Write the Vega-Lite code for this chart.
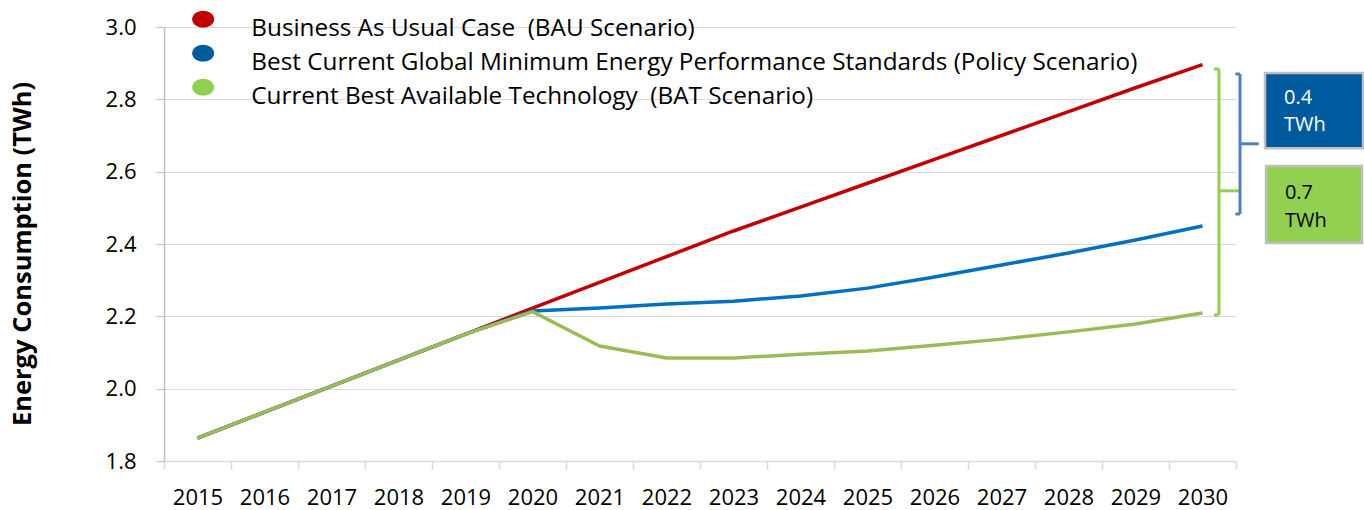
{
  "$schema": "https://vega.github.io/schema/vega-lite/v6.json",
  "width": 1072,
  "height": 434,
  "autosize": {"type": "none"},
  "padding": {"left": 164, "top": 27, "right": 128, "bottom": 49},
  "config": {"view": {"stroke": null}, "font": "Open Sans"},
  "datasets": {
    "series": [
      {"series": "BAU", "year": 2015, "value": 1.863},
      {"series": "BAU", "year": 2016, "value": 1.935},
      {"series": "BAU", "year": 2017, "value": 2.007},
      {"series": "BAU", "year": 2018, "value": 2.079},
      {"series": "BAU", "year": 2019, "value": 2.151},
      {"series": "BAU", "year": 2020, "value": 2.223},
      {"series": "BAU", "year": 2021, "value": 2.294},
      {"series": "BAU", "year": 2022, "value": 2.365},
      {"series": "BAU", "year": 2023, "value": 2.436},
      {"series": "BAU", "year": 2024, "value": 2.502},
      {"series": "BAU", "year": 2025, "value": 2.568},
      {"series": "BAU", "year": 2026, "value": 2.634},
      {"series": "BAU", "year": 2027, "value": 2.700},
      {"series": "BAU", "year": 2028, "value": 2.766},
      {"series": "BAU", "year": 2029, "value": 2.832},
      {"series": "BAU", "year": 2030, "value": 2.896},
      {"series": "Policy", "year": 2015, "value": 1.863},
      {"series": "Policy", "year": 2016, "value": 1.935},
      {"series": "Policy", "year": 2017, "value": 2.007},
      {"series": "Policy", "year": 2018, "value": 2.079},
      {"series": "Policy", "year": 2019, "value": 2.151},
      {"series": "Policy", "year": 2020, "value": 2.215},
      {"series": "Policy", "year": 2021, "value": 2.223},
      {"series": "Policy", "year": 2022, "value": 2.234},
      {"series": "Policy", "year": 2023, "value": 2.242},
      {"series": "Policy", "year": 2024, "value": 2.256},
      {"series": "Policy", "year": 2025, "value": 2.278},
      {"series": "Policy", "year": 2026, "value": 2.309},
      {"series": "Policy", "year": 2027, "value": 2.342},
      {"series": "Policy", "year": 2028, "value": 2.375},
      {"series": "Policy", "year": 2029, "value": 2.411},
      {"series": "Policy", "year": 2030, "value": 2.450},
      {"series": "BAT", "year": 2015, "value": 1.863},
      {"series": "BAT", "year": 2016, "value": 1.935},
      {"series": "BAT", "year": 2017, "value": 2.007},
      {"series": "BAT", "year": 2018, "value": 2.079},
      {"series": "BAT", "year": 2019, "value": 2.151},
      {"series": "BAT", "year": 2020, "value": 2.213},
      {"series": "BAT", "year": 2021, "value": 2.118},
      {"series": "BAT", "year": 2022, "value": 2.085},
      {"series": "BAT", "year": 2023, "value": 2.085},
      {"series": "BAT", "year": 2024, "value": 2.095},
      {"series": "BAT", "year": 2025, "value": 2.104},
      {"series": "BAT", "year": 2026, "value": 2.120},
      {"series": "BAT", "year": 2027, "value": 2.137},
      {"series": "BAT", "year": 2028, "value": 2.157},
      {"series": "BAT", "year": 2029, "value": 2.179},
      {"series": "BAT", "year": 2030, "value": 2.209}
    ],
    "legend": [
      {"scenario": "Business As Usual Case \u00a0(BAU Scenario)", "year": 2015, "value": 1.863},
      {"scenario": "Best Current Global Minimum Energy Performance Standards (Policy Scenario)", "year": 2015, "value": 1.863},
      {"scenario": "Current Best Available Technology \u00a0(BAT Scenario)", "year": 2015, "value": 1.863}
    ],
    "brackets": [
      {"bracket": "BAT", "x": 2030.246, "x2": 2030.246, "y": 2.884, "y2": 2.204},
      {"bracket": "BAT", "x": 2030.17, "x2": 2030.246, "y": 2.884, "y2": 2.884},
      {"bracket": "BAT", "x": 2030.17, "x2": 2030.246, "y": 2.204, "y2": 2.204},
      {"bracket": "BAT", "x": 2030.246, "x2": 2030.55, "y": 2.547, "y2": 2.547},
      {"bracket": "Policy", "x": 2030.56, "x2": 2030.56, "y": 2.870, "y2": 2.483},
      {"bracket": "Policy", "x": 2030.49, "x2": 2030.56, "y": 2.870, "y2": 2.870},
      {"bracket": "Policy", "x": 2030.49, "x2": 2030.56, "y": 2.483, "y2": 2.483},
      {"bracket": "Policy", "x": 2030.56, "x2": 2030.84, "y": 2.677, "y2": 2.677}
    ],
    "boxes": [
      {"box": "Policy", "x": 2030.933, "x2": 2032.396, "y": 2.873, "y2": 2.665},
      {"box": "BAT", "x": 2030.948, "x2": 2032.381, "y": 2.616, "y2": 2.403}
    ],
    "boxlabels": [
      {"box": "Policy", "x": 2031.216, "y": 2.787, "text": "0.4"},
      {"box": "Policy", "x": 2031.216, "y": 2.712, "text": "TWh"},
      {"box": "BAT", "x": 2031.23, "y": 2.524, "text": "0.7"},
      {"box": "BAT", "x": 2031.23, "y": 2.447, "text": "TWh"}
    ]
  },
  "layer": [
    {
      "data": {"name": "series"},
      "mark": {"type": "line", "strokeWidth": 3.5, "strokeCap": "butt", "strokeJoin": "round"},
      "encoding": {
        "x": {
          "field": "year", "type": "quantitative",
          "scale": {"domain": [2014.5, 2030.5], "nice": false, "zero": false},
          "axis": {
            "title": null,
            "values": [2014.5, 2015.5, 2016.5, 2017.5, 2018.5, 2019.5, 2020.5, 2021.5, 2022.5, 2023.5, 2024.5, 2025.5, 2026.5, 2027.5, 2028.5, 2029.5, 2030.5],
            "labelExpr": "datum.value > 2030 ? '' : format(datum.value + 0.5, 'd')",
            "labelOffset": 33.5,
            "labelFlush": false,
            "labelOverlap": false,
            "labelBound": false,
            "grid": false,
            "domainColor": "#D9D9D9",
            "domainWidth": 1.5,
            "tickColor": "#D9D9D9",
            "tickWidth": 1.5,
            "tickSize": 8,
            "labelFontSize": 22,
            "labelFont": "Open Sans",
            "labelColor": "#000000",
            "labelPadding": 18
          }
        },
        "y": {
          "field": "value", "type": "quantitative",
          "scale": {"domain": [1.8, 3.0], "nice": false, "zero": false},
          "axis": {
            "title": "Energy Consumption (TWh)",
            "values": [1.8, 2.0, 2.2, 2.4, 2.6, 2.8, 3.0],
            "format": ".1f",
            "grid": true,
            "gridColor": "#D9D9D9",
            "gridWidth": 1,
            "domainColor": "#BFBFBF",
            "domainWidth": 1.5,
            "tickColor": "#BFBFBF",
            "tickSize": 8,
            "labelFontSize": 22,
            "labelFont": "Open Sans",
            "labelColor": "#000000",
            "labelPadding": 20,
            "titleFont": "Open Sans",
            "titleFontSize": 25.5,
            "titleFontWeight": "bold",
            "titleColor": "#000000",
            "titlePadding": 70,
            "titleY": 226.5
          }
        },
        "stroke": {
          "field": "series", "type": "nominal",
          "scale": {
            "domain": ["BAU", "Policy", "BAT"],
            "range": ["#C00000", "#0070C0", "#9BBB59"]
          },
          "legend": null
        }
      }
    },
    {
      "data": {"name": "legend"},
      "mark": {"type": "point", "filled": true, "opacity": 0},
      "encoding": {
        "x": {"field": "year", "type": "quantitative"},
        "y": {"field": "value", "type": "quantitative"},
        "fill": {
          "field": "scenario", "type": "nominal",
          "scale": {
            "domain": ["Business As Usual Case \u00a0(BAU Scenario)", "Best Current Global Minimum Energy Performance Standards (Policy Scenario)", "Current Best Available Technology \u00a0(BAT Scenario)"],
            "range": ["#C00000", "#005A9E", "#92D050"]
          },
          "legend": {
            "title": null,
            "orient": "none",
            "legendX": 27,
            "legendY": -20,
            "direction": "vertical",
            "symbolType": "M -1 0 A 1 0.77 0 1 0 1 0 A 1 0.77 0 1 0 -1 0 Z",
            "symbolSize": 484,
            "symbolOpacity": 1,
            "symbolStrokeWidth": 0,
            "labelFontSize": 24.3,
            "labelFont": "Open Sans",
            "labelColor": "#000000",
            "labelOffset": 36,
            "labelLimit": 1200,
            "rowPadding": -2,
            "encode": {"labels": {"update": {"dy": {"value": 9.5}}}}
          }
        }
      }
    },
    {
      "data": {"name": "brackets"},
      "transform": [{"filter": "datum.bracket == 'BAT'"}],
      "mark": {"type": "rule", "color": "#92D050", "strokeWidth": 3},
      "encoding": {
        "x": {"field": "x", "type": "quantitative"},
        "x2": {"field": "x2"},
        "y": {"field": "y", "type": "quantitative"},
        "y2": {"field": "y2"}
      }
    },
    {
      "data": {"name": "brackets"},
      "transform": [{"filter": "datum.bracket == 'Policy'"}],
      "mark": {"type": "rule", "color": "#4F81BD", "strokeWidth": 3},
      "encoding": {
        "x": {"field": "x", "type": "quantitative"},
        "x2": {"field": "x2"},
        "y": {"field": "y", "type": "quantitative"},
        "y2": {"field": "y2"}
      }
    },
    {
      "data": {"name": "boxes"},
      "transform": [{"filter": "datum.box == 'Policy'"}],
      "mark": {"type": "rect", "fill": "#005A9E", "stroke": "#BFBFBF", "strokeWidth": 2.5},
      "encoding": {
        "x": {"field": "x", "type": "quantitative"},
        "x2": {"field": "x2"},
        "y": {"field": "y", "type": "quantitative"},
        "y2": {"field": "y2"}
      }
    },
    {
      "data": {"name": "boxes"},
      "transform": [{"filter": "datum.box == 'BAT'"}],
      "mark": {"type": "rect", "fill": "#92D050", "stroke": "#BFBFBF", "strokeWidth": 2.5},
      "encoding": {
        "x": {"field": "x", "type": "quantitative"},
        "x2": {"field": "x2"},
        "y": {"field": "y", "type": "quantitative"},
        "y2": {"field": "y2"}
      }
    },
    {
      "data": {"name": "boxlabels"},
      "transform": [{"filter": "datum.box == 'Policy'"}],
      "mark": {"type": "text", "align": "left", "baseline": "alphabetic", "fontSize": 20, "font": "Open Sans", "color": "#FFFFFF"},
      "encoding": {
        "x": {"field": "x", "type": "quantitative"},
        "y": {"field": "y", "type": "quantitative"},
        "text": {"field": "text"}
      }
    },
    {
      "data": {"name": "boxlabels"},
      "transform": [{"filter": "datum.box == 'BAT'"}],
      "mark": {"type": "text", "align": "left", "baseline": "alphabetic", "fontSize": 20, "font": "Open Sans", "color": "#000000"},
      "encoding": {
        "x": {"field": "x", "type": "quantitative"},
        "y": {"field": "y", "type": "quantitative"},
        "text": {"field": "text"}
      }
    }
  ]
}
